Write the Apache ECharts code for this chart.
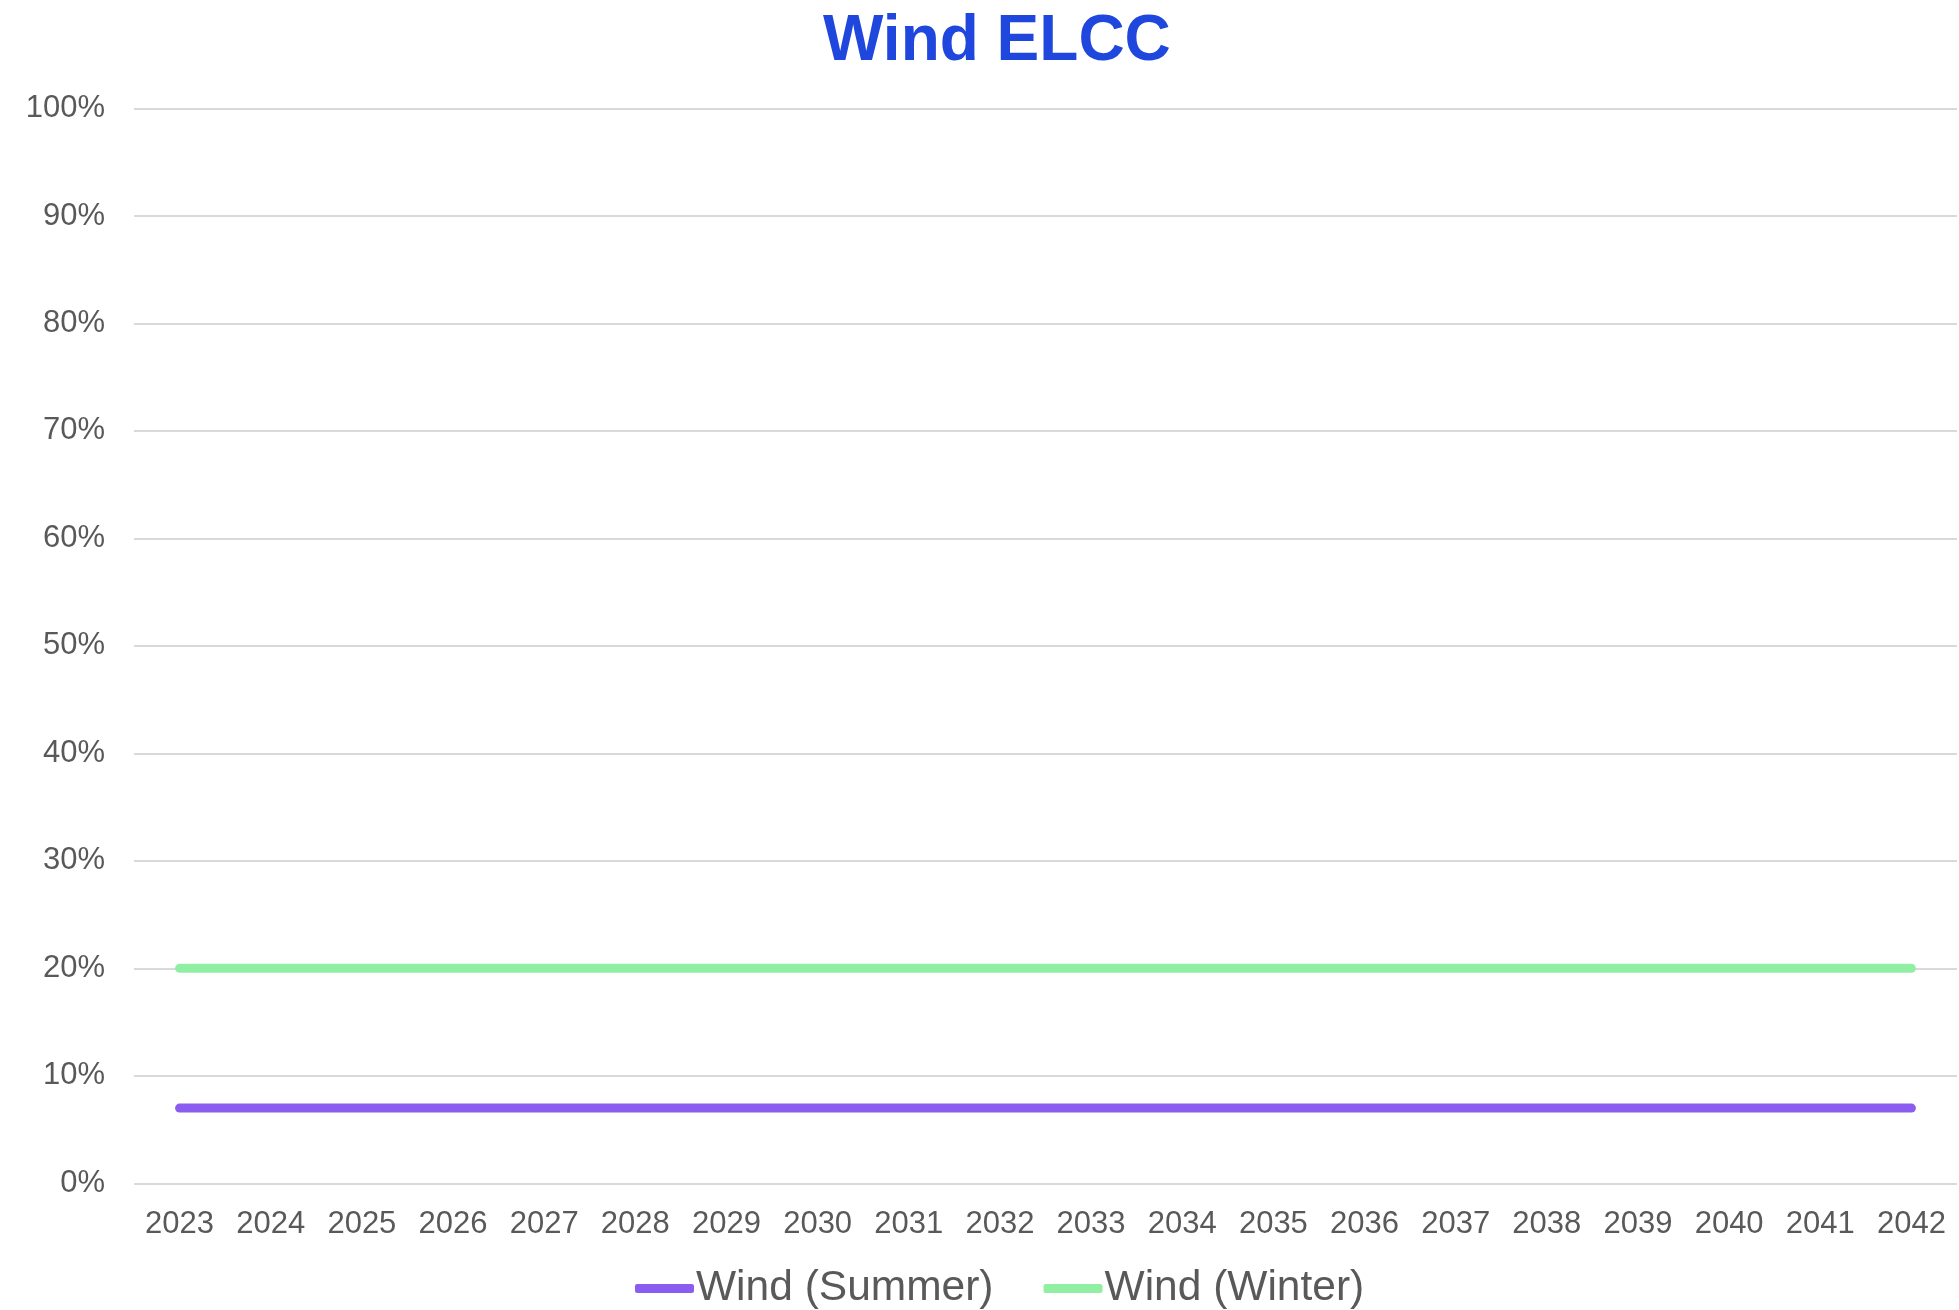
<!DOCTYPE html>
<html>
<head>
<meta charset="utf-8">
<title>Wind ELCC</title>
<script src="https://cdn.jsdelivr.net/npm/echarts@6/dist/echarts.min.js"></script>
<style>
  html, body { margin: 0; padding: 0; background: #ffffff; }
  #chart { width: 1959px; height: 1310px; }
</style>
</head>
<body>
<div id="chart"></div>
<script>
// Planning years on the horizontal axis
const years = ['2023', '2024', '2025', '2026', '2027', '2028', '2029', '2030', '2031', '2032',
               '2033', '2034', '2035', '2036', '2037', '2038', '2039', '2040', '2041', '2042'];

// Effective load carrying capability, as a fraction of nameplate
const windSummer = [0.07, 0.07, 0.07, 0.07, 0.07, 0.07, 0.07, 0.07, 0.07, 0.07,
                    0.07, 0.07, 0.07, 0.07, 0.07, 0.07, 0.07, 0.07, 0.07, 0.07];
const windWinter = [0.20, 0.20, 0.20, 0.20, 0.20, 0.20, 0.20, 0.20, 0.20, 0.20,
                    0.20, 0.20, 0.20, 0.20, 0.20, 0.20, 0.20, 0.20, 0.20, 0.20];

const seriesNames = ['Wind (Summer)', 'Wind (Winter)'];
const seriesColors = ['#8B5CF0', '#90EFA2'];

const FONT = '"Liberation Sans", Arial, sans-serif';
const labelGray = '#595959';

const chart = echarts.init(document.getElementById('chart'), null, { renderer: 'canvas' });

chart.setOption({
  backgroundColor: '#ffffff',
  animation: false,
  title: {
    text: 'Wind ELCC',
    left: 823,
    top: 10,
    padding: 0,
    textStyle: {
      fontFamily: FONT,
      fontSize: 64,
      fontWeight: 'bold',
      color: '#2047DD'
    }
  },
  legend: {
    left: 635,
    top: 1267,
    padding: 0,
    itemWidth: 59,
    itemHeight: 9,
    itemGap: 50,
    icon: 'roundRect',
    data: seriesNames,
    textStyle: {
      fontFamily: FONT,
      fontSize: 42.5,
      color: labelGray,
      padding: [0, 0, 0, -3]
    }
  },
  grid: {
    left: 134,
    right: 2,
    top: 108.5,
    bottom: 126.7,
    containLabel: false
  },
  xAxis: {
    type: 'category',
    data: years,
    boundaryGap: true,
    axisLine: { show: false },
    axisTick: { show: false },
    axisLabel: {
      fontFamily: FONT,
      fontSize: 31,
      color: labelGray,
      margin: 26,
      interval: 0
    }
  },
  yAxis: {
    type: 'value',
    min: 0,
    max: 1,
    interval: 0.1,
    axisLine: { show: false },
    axisTick: { show: false },
    axisLabel: {
      fontFamily: FONT,
      fontSize: 31,
      color: labelGray,
      margin: 29,
      verticalAlign: 'middle',
      lineHeight: 36,
      padding: [6, 0, 0, 0],
      formatter: v => Math.round(v * 100) + '%'
    },
    splitLine: {
      show: true,
      lineStyle: { color: '#D9D9D9', width: 2 }
    }
  },
  series: [
    {
      name: seriesNames[0],
      type: 'line',
      data: windSummer,
      showSymbol: false,
      symbol: 'none',
      color: seriesColors[0],
      lineStyle: { width: 9, cap: 'round', join: 'round', color: seriesColors[0] }
    },
    {
      name: seriesNames[1],
      type: 'line',
      data: windWinter,
      showSymbol: false,
      symbol: 'none',
      color: seriesColors[1],
      lineStyle: { width: 9, cap: 'round', join: 'round', color: seriesColors[1] }
    }
  ]
});
</script>
</body>
</html>
